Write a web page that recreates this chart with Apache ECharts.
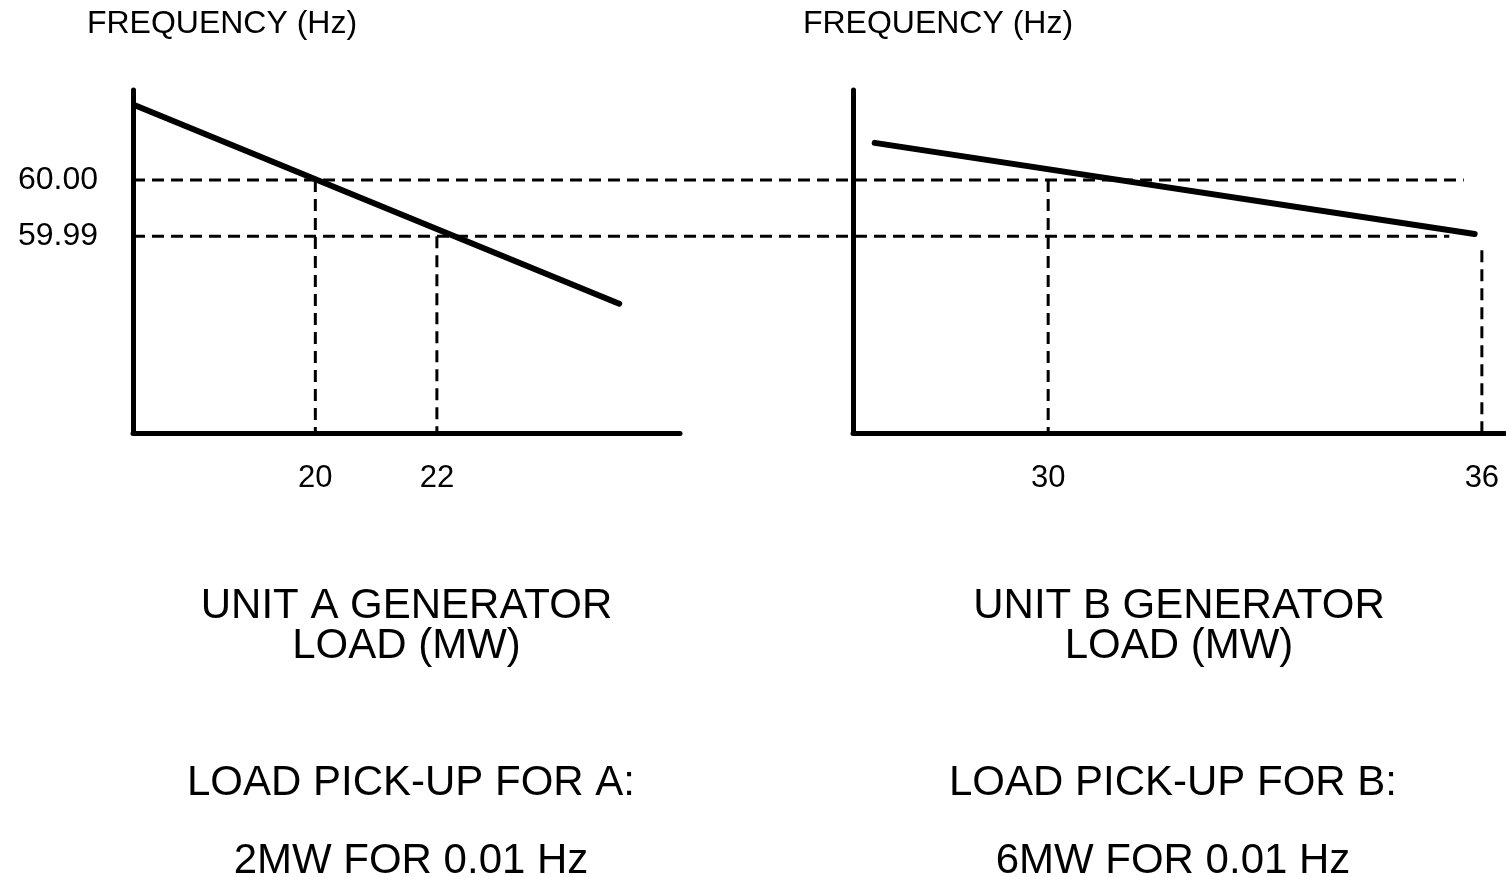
<!DOCTYPE html>
<html>
<head>
<meta charset="utf-8">
<script src="https://cdn.jsdelivr.net/npm/echarts@6/dist/echarts.min.js"></script>
<style>
  html, body { margin: 0; padding: 0; background: #fff; }
  #chart { width: 1506px; height: 877px; }
</style>
</head>
<body>
<div id="chart"></div>
<script>
// droop lines (load MW, frequency Hz)
const loadA = [17.03, 25.0];
const freqA = [60.0133, 59.978];
const loadB = [27.6, 35.9];
const freqB = [60.0066, 59.9904];

// reference frequencies and the loads they give
const refFreq = [60.00, 59.99];
const refLoadA = [20, 22];
const refLoadB = [30, 36];
const refEndB = [35.75, 35.55];   // where the dashed frequency lines stop (unit B scale)
const dropEndB = [60.00, 59.9875];

const yTicks = [60.00, 59.99];

const font = 'Liberation Sans, Arial, sans-serif';
const black = '#000';

const chart = echarts.init(document.getElementById('chart'));

const solid = { color: black, width: 6, cap: 'round' };
const dashed = { color: black, width: 3, type: [12, 7] };

function seg(xIdx, yIdx, pts, style, z) {
    return {
        type: 'line', xAxisIndex: xIdx, yAxisIndex: yIdx,
        data: pts, showSymbol: false, symbol: 'none',
        lineStyle: style, z: z || 2, clip: false, silent: true
    };
}

const yBase = {
    type: 'value', min: 59.955, max: 60.016,
    splitLine: { show: false }, axisTick: { show: false },
    axisLine: { show: true, lineStyle: { color: black, width: 5 } }
};
const nameStyle = { color: black, fontSize: 32, fontFamily: font, align: 'center' };
const xName = { color: black, fontSize: 42, fontFamily: font, lineHeight: 40 };
const xLabel = { color: black, fontSize: 31, fontFamily: font, margin: 30 };

const series = [
    seg(0, 0, [[loadA[0], freqA[0]], [loadA[1], freqA[1]]], solid, 5),
    seg(1, 1, [[loadB[0], freqB[0]], [loadB[1], freqB[1]]], solid, 5)
];
refFreq.forEach((f, i) => {
    // horizontal dashed line across both plots
    series.push(seg(2, 2, [[17.346, f], [refEndB[i], f]], dashed));
    // drop lines down to the load axes
    series.push(seg(0, 0, [[refLoadA[i], f], [refLoadA[i], 59.955]], dashed));
    series.push(seg(1, 1, [[refLoadB[i], dropEndB[i]], [refLoadB[i], 59.955]], dashed));
});

const option = {
    animation: false,
    backgroundColor: '#fff',
    grid: [
        { left: 133, top: 90, width: 547, height: 343 },
        { left: 853, top: 90, width: 652, height: 343 },
        { left: 133, top: 90, width: 1372, height: 343 }
    ],
    title: [
        { text: 'LOAD PICK-UP FOR A:\n2MW FOR 0.01 Hz', left: 406, top: 739, textAlign: 'center',
          textStyle: { color: black, fontSize: 42, fontWeight: 'normal', fontFamily: font, lineHeight: 78 } },
        { text: 'LOAD PICK-UP FOR B:\n6MW FOR 0.01 Hz', left: 1168, top: 739, textAlign: 'center',
          textStyle: { color: black, fontSize: 42, fontWeight: 'normal', fontFamily: font, lineHeight: 78 } }
    ],
    xAxis: [
        {
            gridIndex: 0, type: 'value', min: 17, max: 26,
            name: 'UNIT A GENERATOR\nLOAD (MW)', nameLocation: 'middle', nameGap: 153,
            nameTextStyle: xName,
            splitLine: { show: false }, axisTick: { show: false },
            axisLine: { lineStyle: { color: black, width: 5 } },
            axisLabel: Object.assign({ customValues: refLoadA }, xLabel)
        },
        {
            gridIndex: 1, type: 'value', min: 27.3, max: 36.32,
            name: 'UNIT B GENERATOR\nLOAD (MW)', nameLocation: 'middle', nameGap: 153,
            nameTextStyle: xName,
            splitLine: { show: false }, axisTick: { show: false },
            axisLine: { lineStyle: { color: black, width: 5 } },
            axisLabel: Object.assign({ customValues: refLoadB }, xLabel)
        },
        { gridIndex: 2, type: 'value', min: 17.346, max: 36.32, show: false }
    ],
    yAxis: [
        Object.assign({}, yBase, {
            gridIndex: 0,
            name: 'FREQUENCY (Hz)', nameLocation: 'end', nameGap: 50,
            nameTextStyle: Object.assign({ padding: [0, 0, 0, 178] }, nameStyle),
            axisLabel: {
                customValues: yTicks, color: black, fontSize: 32, fontFamily: font, margin: 35,
                formatter: v => v.toFixed(2)
            }
        }),
        Object.assign({}, yBase, {
            gridIndex: 1,
            name: 'FREQUENCY (Hz)', nameLocation: 'end', nameGap: 50,
            nameTextStyle: Object.assign({ padding: [0, 0, 0, 170] }, nameStyle),
            axisLabel: { show: false }
        }),
        Object.assign({}, yBase, { gridIndex: 2, show: false })
    ],
    series: series
};

chart.setOption(option);
</script>
</body>
</html>
